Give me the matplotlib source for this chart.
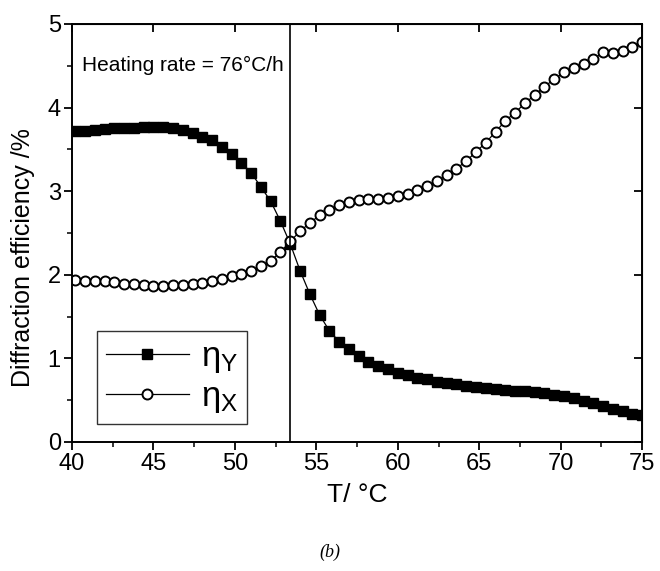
import matplotlib
matplotlib.use("Agg")
import matplotlib.pyplot as plt
from matplotlib.ticker import MultipleLocator

plt.rcParams['font.family'] = ['Liberation Sans', 'DejaVu Sans']
plt.rcParams['mathtext.fontset'] = 'custom'
plt.rcParams['mathtext.rm'] = 'Liberation Sans'
plt.rcParams['mathtext.it'] = 'Liberation Sans'

# temperature (deg C)
temp = [40.2, 40.8, 41.4, 42.0, 42.6, 43.2, 43.8, 44.4, 45.0, 45.6,
        46.2, 46.8, 47.4, 48.0, 48.6, 49.2, 49.8, 50.4, 51.0, 51.6,
        52.2, 52.8, 53.4, 54.0, 54.6, 55.2, 55.8, 56.4, 57.0, 57.6,
        58.2, 58.8, 59.4, 60.0, 60.6, 61.2, 61.8, 62.4, 63.0, 63.6,
        64.2, 64.8, 65.4, 66.0, 66.6, 67.2, 67.8, 68.4, 69.0, 69.6,
        70.2, 70.8, 71.4, 72.0, 72.6, 73.2, 73.8, 74.4, 75.0]

# eta_Y (filled squares)
eta_y = [3.72, 3.72, 3.73, 3.74, 3.75, 3.755, 3.76, 3.77, 3.77, 3.77,
         3.76, 3.73, 3.69, 3.65, 3.61, 3.53, 3.44, 3.34, 3.22, 3.05,
         2.88, 2.64, 2.37, 2.05, 1.77, 1.52, 1.33, 1.20, 1.11, 1.03,
         0.96, 0.91, 0.87, 0.83, 0.80, 0.77, 0.75, 0.72, 0.70, 0.69,
         0.67, 0.66, 0.645, 0.635, 0.625, 0.615, 0.605, 0.595, 0.58, 0.565,
         0.55, 0.525, 0.495, 0.465, 0.435, 0.40, 0.37, 0.34, 0.32]

# eta_X (open circles)
eta_x = [1.94, 1.93, 1.92, 1.92, 1.91, 1.89, 1.885, 1.88, 1.87, 1.87,
         1.875, 1.88, 1.89, 1.905, 1.93, 1.95, 1.98, 2.01, 2.05, 2.10,
         2.17, 2.27, 2.40, 2.52, 2.62, 2.71, 2.78, 2.84, 2.87, 2.89,
         2.91, 2.91, 2.915, 2.94, 2.97, 3.01, 3.06, 3.12, 3.19, 3.27,
         3.36, 3.47, 3.58, 3.71, 3.84, 3.94, 4.05, 4.15, 4.25, 4.34,
         4.42, 4.47, 4.52, 4.58, 4.66, 4.65, 4.68, 4.73, 4.79]

t_cross = 53.4

fig = plt.figure(figsize=(6.6, 5.71), dpi=100)
ax = fig.add_axes([0.109, 0.226, 0.864, 0.732])

ax.plot(temp, eta_y, '-', color='black', lw=0.9, marker='s', ms=6.8,
        mfc='black', mec='black', label=r'$\eta_{\rm Y}$')
ax.plot(temp, eta_x, '-', color='black', lw=0.9, marker='o', ms=7.2,
        mfc='white', mec='black', mew=1.4, label=r'$\eta_{\rm X}$')
ax.axvline(t_cross, color='black', lw=1.2)

ax.set_xlim(40, 75)
ax.set_ylim(0, 5)
ax.xaxis.set_major_locator(MultipleLocator(5))
ax.xaxis.set_minor_locator(MultipleLocator(2.5))
ax.yaxis.set_major_locator(MultipleLocator(1))
ax.yaxis.set_minor_locator(MultipleLocator(0.5))
ax.tick_params(which='major', direction='out', length=6, width=1.3, labelsize=17, pad=2)
ax.tick_params(which='minor', direction='out', length=3.5, width=1.1)
for s in ax.spines.values():
    s.set_linewidth(1.4)

# mirrored ticks on top / right, pointing in
top = ax.secondary_xaxis('top')
top.xaxis.set_major_locator(MultipleLocator(5))
top.tick_params(direction='in', length=6, width=1.3, labeltop=False)
right = ax.secondary_yaxis('right')
right.yaxis.set_major_locator(MultipleLocator(1))
right.tick_params(direction='in', length=6, width=1.3, labelright=False)

ax.set_xlabel('T/ °C', fontsize=19, labelpad=6)
ax.set_ylabel('Diffraction efficiency /%', fontsize=18)
ax.yaxis.set_label_coords(-0.064, 0.44)

ax.text(40.6, 4.5, 'Heating rate = 76°C/h', fontsize=15, va='center')

leg = ax.legend(loc='lower left', bbox_to_anchor=(0.044, 0.043), fontsize=25,
                frameon=True, fancybox=False, edgecolor='black',
                handlelength=2.4, handletextpad=0.35, borderpad=0.25,
                labelspacing=0.15, borderaxespad=0)
leg.get_frame().set_linewidth(1.0)

fig.text(0.5, 0.033, '(b)', fontsize=13, family='Liberation Serif',
         style='italic', ha='center', va='center')

fig.savefig('out.png', dpi=100)
